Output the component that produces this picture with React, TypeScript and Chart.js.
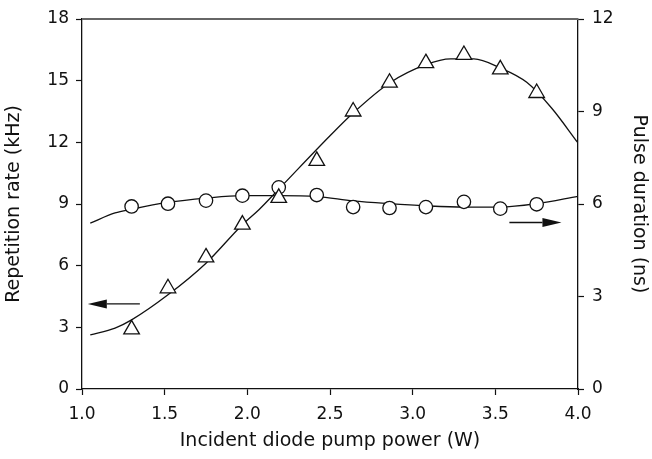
import React, { useEffect, useRef } from "react";
import { Chart, registerables } from "chart.js";
Chart.register(...registerables);

// Measured points
const pumpPower = [1.3, 1.52, 1.75, 1.97, 2.19, 2.42, 2.64, 2.86, 3.08, 3.31, 3.53, 3.75];
const repetitionRate = [2.9, 4.9, 6.4, 8.0, 9.3, 11.1, 13.5, 14.9, 15.85, 16.25, 15.55, 14.4];
const pulseDuration = [5.92, 6.01, 6.11, 6.27, 6.54, 6.29, 5.9, 5.87, 5.9, 6.07, 5.85, 5.99];

// Fitted curves
const rateFitX = [1.05, 1.2, 1.3, 1.52, 1.75, 1.97, 2.07, 2.19, 2.5, 2.64, 2.86, 3.08, 3.23, 3.37, 3.53, 3.69, 3.84, 4.0];
const rateFitY = [2.63, 2.96, 3.36, 4.58, 6.12, 7.99, 8.72, 9.72, 12.32, 13.43, 14.89, 15.78, 16.06, 16.06, 15.62, 14.92, 13.67, 11.97];
const pulseFitX = [1.05, 1.2, 1.3, 1.52, 1.75, 1.97, 2.19, 2.42, 2.64, 2.86, 3.08, 3.31, 3.53, 3.75, 4.0];
const pulseFitY = [5.38, 5.71, 5.83, 6.05, 6.19, 6.27, 6.27, 6.24, 6.1, 6.01, 5.94, 5.9, 5.9, 6.01, 6.25];

// Axis ticks
const xTicks = [1.0, 1.5, 2.0, 2.5, 3.0, 3.5, 4.0];
const leftTicks = [0, 3, 6, 9, 12, 15, 18];
const rightTicks = [0, 3, 6, 9, 12];

// Arrow annotations (data units): [tailX, tipX, y]
const leftArrow = [1.35, 1.035, 4.14];
const rightArrow = [3.585, 3.9, 5.4];

const FONT = "'DejaVu Sans', sans-serif";
const INK = "#111111";

const pts = (xs: number[], ys: number[]) => xs.map((x, i) => ({ x, y: ys[i] }));

const annotPlugin = {
  id: "annot",
  afterDatasetsDraw(chart: any) {
    const { ctx, chartArea: a, scales } = chart;
    ctx.save();
    ctx.strokeStyle = "#666";
    ctx.lineWidth = 2;
    ctx.beginPath();
    ctx.moveTo(a.left, a.top);
    ctx.lineTo(a.right, a.top);
    ctx.stroke();

    const arrow = (spec: number[], yScale: any) => {
      const tx = scales.x.getPixelForValue(spec[0]);
      const hx = scales.x.getPixelForValue(spec[1]);
      const y = yScale.getPixelForValue(spec[2]);
      const dir = Math.sign(hx - tx);
      const len = 19;
      const hw = 4.5;
      ctx.strokeStyle = INK;
      ctx.fillStyle = INK;
      ctx.lineWidth = 1.3;
      ctx.beginPath();
      ctx.moveTo(tx, y);
      ctx.lineTo(hx - dir * len, y);
      ctx.stroke();
      ctx.beginPath();
      ctx.moveTo(hx, y);
      ctx.lineTo(hx - dir * len, y - hw);
      ctx.lineTo(hx - dir * len, y + hw);
      ctx.closePath();
      ctx.fill();
    };
    arrow(leftArrow, scales.y);
    arrow(rightArrow, scales.y1);
    ctx.restore();
  },
};

export default function App() {
  const ref = useRef<HTMLCanvasElement | null>(null);
  useEffect(() => {
    if (!ref.current) return;
    const tickFont = { family: FONT, size: 17 };
    const titleFont = { family: FONT, size: 19 };
    const grid = {
      drawOnChartArea: false,
      drawTicks: true,
      tickLength: 6,
      tickColor: INK,
      tickWidth: 1.2,
    };
    const border = { display: true, color: INK, width: 1.3 };
    const chart = new Chart(ref.current, {
      type: "scatter",
      data: {
        datasets: [
          {
            label: "Repetition rate",
            data: pts(pumpPower, repetitionRate),
            yAxisID: "y",
            pointStyle: "triangle",
            pointRadius: 9,
            pointBorderWidth: 1.3,
            pointBackgroundColor: "#fff",
            pointBorderColor: INK,
            showLine: false,
            order: 0,
          },
          {
            label: "Pulse duration",
            data: pts(pumpPower, pulseDuration),
            yAxisID: "y1",
            pointStyle: "circle",
            pointRadius: 6.7,
            pointBorderWidth: 1.3,
            pointBackgroundColor: "#fff",
            pointBorderColor: INK,
            showLine: false,
            order: 0,
          },
          {
            label: "Rate fit",
            data: pts(rateFitX, rateFitY),
            yAxisID: "y",
            showLine: true,
            pointRadius: 0,
            borderColor: INK,
            borderWidth: 1.3,
            cubicInterpolationMode: "monotone",
            order: 1,
          },
          {
            label: "Pulse fit",
            data: pts(pulseFitX, pulseFitY),
            yAxisID: "y1",
            showLine: true,
            pointRadius: 0,
            borderColor: INK,
            borderWidth: 1.3,
            cubicInterpolationMode: "monotone",
            order: 1,
          },
        ],
      },
      options: {
        animation: false,
        responsive: false,
        layout: { padding: { top: 19, left: 0, right: 0, bottom: 0 } },
        plugins: { legend: { display: false }, tooltip: { enabled: false } },
        scales: {
          x: {
            type: "linear",
            min: 1,
            max: 4,
            afterBuildTicks: (s: any) => {
              s.ticks = xTicks.map((v) => ({ value: v }));
            },
            afterFit: (s: any) => {
              s.height = 70;
            },
            ticks: {
              autoSkip: false,
              maxRotation: 0,
              padding: 9,
              color: INK,
              font: tickFont,
              callback: (v: any) => Number(v).toFixed(1),
            },
            grid,
            border,
            title: {
              display: true,
              text: "Incident diode pump power (W)",
              color: INK,
              font: titleFont,
              padding: { top: 0, bottom: 7 },
            },
          },
          y: {
            type: "linear",
            position: "left",
            min: 0,
            max: 18,
            afterBuildTicks: (s: any) => {
              s.ticks = leftTicks.map((v) => ({ value: v }));
            },
            afterFit: (s: any) => {
              s.width = 82;
            },
            ticks: { autoSkip: false, padding: 7, color: INK, font: tickFont },
            grid,
            border,
            title: {
              display: true,
              text: "Repetition rate (kHz)",
              color: INK,
              font: titleFont,
              padding: { top: 3, bottom: 0 },
            },
          },
          y1: {
            type: "linear",
            position: "right",
            min: 0,
            max: 12,
            afterBuildTicks: (s: any) => {
              s.ticks = rightTicks.map((v) => ({ value: v }));
            },
            afterFit: (s: any) => {
              s.width = 74;
            },
            ticks: { autoSkip: false, padding: 8, color: INK, font: tickFont },
            grid,
            border,
            title: {
              display: true,
              text: "Pulse duration (ns)",
              color: INK,
              font: titleFont,
              padding: { top: 2, bottom: 0 },
            },
          },
        },
      },
      plugins: [annotPlugin],
    } as any);
    return () => chart.destroy();
  }, []);
  return (
    <div style={{ position: "fixed", left: 0, top: 0, width: 652, height: 459, background: "#fff" }}>
      <canvas ref={ref} width={652} height={459} style={{ width: 652, height: 459 }} />
    </div>
  );
}
